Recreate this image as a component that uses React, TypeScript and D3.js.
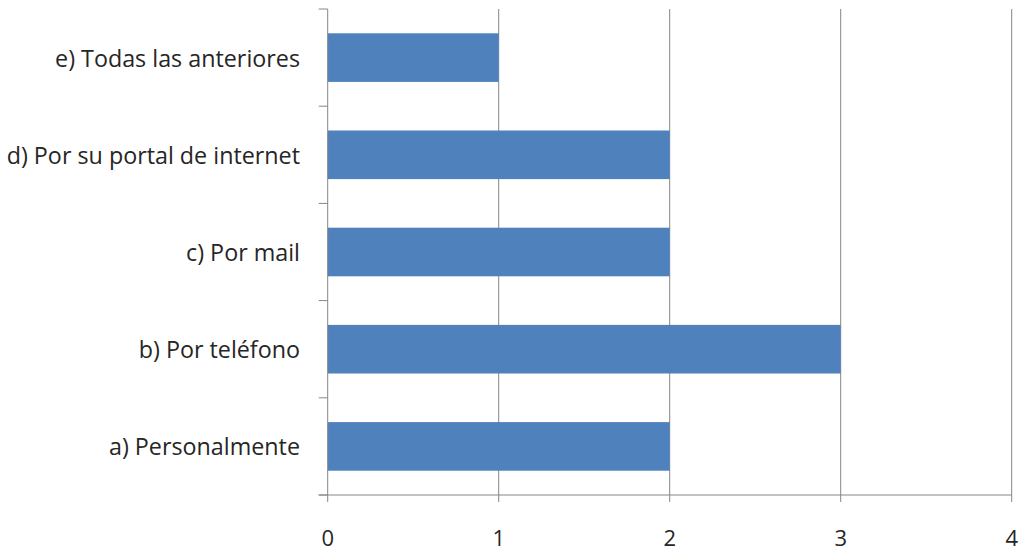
import React from "react";
import * as d3 from "d3";

const categories = [
  "e) Todas las anteriores",
  "d) Por su portal de internet",
  "c) Por mail",
  "b) Por teléfono",
  "a) Personalmente",
];
const values = [1, 2, 2, 3, 2];
const xTicks = [0, 1, 2, 3, 4];

export default function App() {
  const W = 1020, H = 553;
  const left = 327.7, right = 1011.7, top = 9, bottom = 495;
  const x = d3.scaleLinear().domain([0, 4]).range([left, right]);
  const y = d3.scaleBand<string>().domain(categories).range([top, bottom]).paddingInner(0.5).paddingOuter(0.25);
  const bandEdges = categories.map((_, i) => top + (i * (bottom - top)) / categories.length).concat([bottom]);
  const font = "'Open Sans', sans-serif";
  const axisColor = "#868686";
  return (
    <svg width={W} height={H} style={{ position: "absolute", left: 0, top: 0 }}>
      <rect width={W} height={H} fill="#fff" />
      {xTicks.slice(1).map((t) => (
        <line key={"g" + t} x1={x(t)} x2={x(t)} y1={top} y2={bottom} stroke={axisColor} strokeWidth={1} />
      ))}
      {categories.map((c, i) => (
        <rect key={c} x={x(0)} y={y(c)} width={x(values[i]) - x(0)} height={y.bandwidth()} fill="#4F81BD" />
      ))}
      <line x1={left} x2={left} y1={top} y2={bottom} stroke={axisColor} />
      {bandEdges.map((e, i) => (
        <line key={"yt" + i} x1={left - 9} x2={left} y1={e} y2={e} stroke={axisColor} />
      ))}
      <line x1={left - 9} x2={right} y1={bottom} y2={bottom} stroke={axisColor} />
      {xTicks.map((t) => (
        <line key={"xt" + t} x1={x(t)} x2={x(t)} y1={bottom} y2={bottom + 7} stroke={axisColor} />
      ))}
      {xTicks.map((t) => (
        <text key={"xl" + t} x={x(t)} y={545.5} textAnchor="middle" fontFamily={font} fontSize={22} fill="#262626">
          {t}
        </text>
      ))}
      {categories.map((c) => (
        <text key={"yl" + c} x={300} y={(y(c) as number) + y.bandwidth() / 2 + 9} textAnchor="end" fontFamily={font} fontSize={23.3} fill="#262626">
          {c}
        </text>
      ))}
    </svg>
  );
}
